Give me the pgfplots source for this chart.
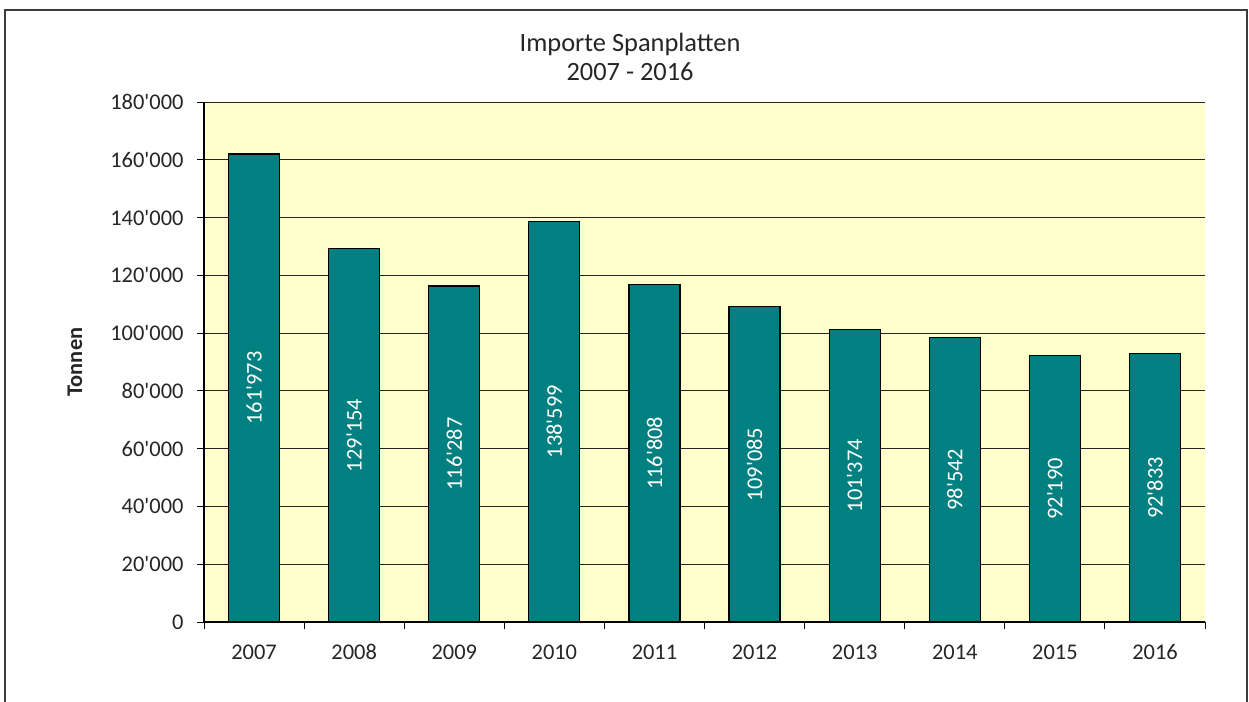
\documentclass[border=0pt]{standalone}
\usepackage{pgfplots}
\pgfplotsset{compat=1.18}
\usepackage{pgfplotstable}
\usepackage{fontspec}
\setmainfont{Carlito}[Ligatures=TeXOff]
\definecolor{barteal}{RGB}{0,128,128}
\definecolor{plotbg}{RGB}{255,255,204}
\definecolor{framegray}{RGB}{60,60,60}
\pgfplotstableread{
x y lab
0 161973 161'973
1 129154 129'154
2 116287 116'287
3 138599 138'599
4 116808 116'808
5 109085 109'085
6 101374 101'374
7 98542 98'542
8 92190 92'190
9 92833 92'833
}\datatable
\newcommand{\tickfont}{\fontsize{22.5}{27}\selectfont}
\begin{document}
\begin{tikzpicture}
\useasboundingbox (0,0) rectangle (1249bp,-702bp);
\fill[white] (0,0) rectangle (1249bp,-702bp);
\draw[framegray, line width=2bp] (5bp,-702bp) -- (5bp,-10bp) -- (1247bp,-10bp) -- (1247bp,-702bp);
\begin{axis}[
  at={(204bp,-622bp)}, anchor=south west,
  width=1001bp, height=520bp, scale only axis,
  xmin=-0.5, xmax=9.5, ymin=0, ymax=180000,
  axis x line*=bottom, axis y line*=left,
  x axis line style={-, black, line width=1.2bp},
  y axis line style={-, black, line width=1.2bp},
  axis background/.style={fill=plotbg},
  ymajorgrids, grid style={black!85, line width=1bp},
  ytick={0,20000,...,180000},
  yticklabels={0,20'000,40'000,60'000,80'000,100'000,120'000,140'000,160'000,180'000},
  scaled y ticks=false,
  xtick={0,...,9},
  xticklabels={2007,2008,2009,2010,2011,2012,2013,2014,2015,2016},
  xtick style={draw=none},
  ytick style={draw=black, line width=1bp},
  tick align=outside, major tick length=7bp,
  extra x ticks={-0.5,0.5,1.5,2.5,3.5,4.5,5.5,6.5,7.5,8.5,9.5},
  extra x tick labels={},
  extra x tick style={grid=none, xtick style={draw=black, line width=1bp}},
  yticklabel style={font=\tickfont, text=black!85, xshift=-10bp},
  xticklabel style={font=\tickfont, text=black!85, yshift=-12bp},
  ylabel={Tonnen},
  ylabel style={at={(axis description cs:-0.129,0.5)}, anchor=center, font=\tickfont\bfseries, text=black!85},
  title={Importe Spanplatten\\2007 - 2016},
  title style={at={(axis description cs:0.4256,1.076)}, anchor=center, align=center, font=\fontsize{26.5}{29}\selectfont, text=black!85},
]
\addplot[ybar, bar width=51bp, fill=barteal, draw=black, line width=1.2bp] table[x=x, y=y] {\datatable};
\addplot[draw=none, mark=none, nodes near coords, point meta=explicit symbolic,
  nodes near coords style={rotate=90, anchor=center, text=white, font=\fontsize{22.5}{26}\selectfont}]
  table[x=x, y expr=\thisrow{y}/2, meta=lab] {\datatable};
\end{axis}
\end{tikzpicture}
\end{document}
